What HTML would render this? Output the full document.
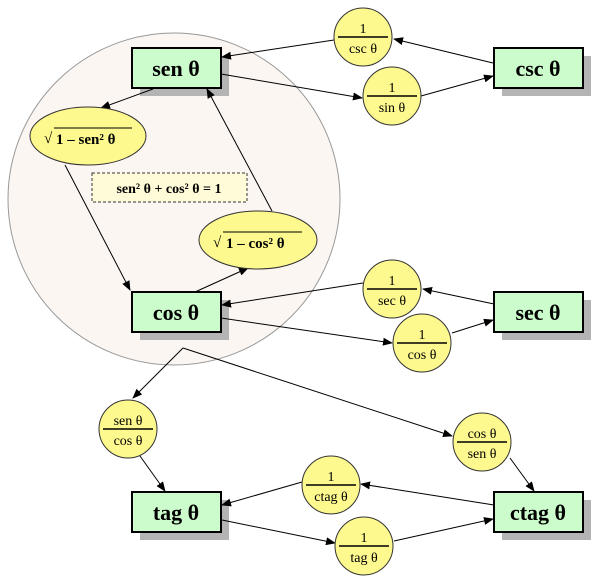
<!DOCTYPE html>
<html><head><meta charset="utf-8"><style>body{margin:0;background:#fff}svg{display:block}</style></head><body>
<svg width="600" height="580" xmlns="http://www.w3.org/2000/svg" font-family="Liberation Serif, serif">
<defs><marker id="a" markerWidth="10" markerHeight="8" refX="9" refY="4" orient="auto" markerUnits="userSpaceOnUse"><path d="M0,0 L10,4 L0,8 z" fill="#000"/></marker></defs>
<circle cx="174" cy="199" r="166" fill="#fbf6f2" stroke="#999" stroke-width="1"/>
<g fill="#b4b4b4">
<rect x="140" y="56" width="89" height="40"/><rect x="502" y="56" width="89" height="40"/>
<rect x="140" y="300" width="89" height="40"/><rect x="502" y="300" width="89" height="40"/>
<rect x="140" y="500" width="89" height="40"/><rect x="502" y="500" width="89" height="40"/>
</g>
<g stroke="#000" stroke-width="1" fill="none" marker-end="url(#a)">
<line x1="493" y1="63" x2="394" y2="39"/>
<line x1="334" y1="40" x2="222" y2="57"/>
<line x1="221" y1="74" x2="362" y2="98"/>
<line x1="421" y1="96" x2="493" y2="76"/>
<line x1="153" y1="89" x2="101" y2="108"/>
<line x1="65" y1="165" x2="130" y2="290"/>
<line x1="195" y1="292" x2="248" y2="268"/>
<line x1="272" y1="211" x2="207" y2="89"/>
<line x1="494" y1="304" x2="423" y2="289"/>
<line x1="363" y1="283" x2="222" y2="305"/>
<line x1="221" y1="318" x2="392" y2="343"/>
<line x1="452" y1="333" x2="493" y2="320"/>
<line x1="183" y1="348" x2="133" y2="398"/>
<line x1="183" y1="348" x2="452" y2="436"/>
<line x1="140" y1="456" x2="165" y2="491"/>
<line x1="510" y1="458" x2="534" y2="491"/>
<line x1="494" y1="505" x2="361" y2="484"/>
<line x1="302" y1="482" x2="222" y2="505"/>
<line x1="222" y1="520" x2="335" y2="543"/>
<line x1="394" y1="541" x2="493" y2="519"/>
</g>
<g fill="#ccfccc" stroke="#000" stroke-width="2">
<rect x="132" y="48" width="89" height="40"/><rect x="494" y="48" width="89" height="40"/>
<rect x="132" y="292" width="89" height="40"/><rect x="494" y="292" width="89" height="40"/>
<rect x="132" y="492" width="89" height="40"/><rect x="494" y="492" width="89" height="40"/>
</g>
<g font-weight="bold" font-size="22" text-anchor="middle">
<text x="176" y="76">sen θ</text><text x="538" y="76">csc θ</text>
<text x="176" y="320">cos θ</text><text x="538" y="320">sec θ</text>
<text x="176" y="520">tag θ</text><text x="538" y="520">ctag θ</text>
</g>
<rect x="92" y="173" width="155" height="29" fill="#fffbd8" stroke="#333" stroke-dasharray="3,2"/>
<text x="169" y="193" text-anchor="middle" font-weight="bold" font-size="14">sen² θ + cos² θ = 1</text>
<g fill="#fdf98f" stroke="#333" stroke-width="1">
<ellipse cx="88" cy="136" rx="58" ry="29"/><ellipse cx="258" cy="240" rx="59" ry="29"/>
<circle cx="363" cy="37" r="29"/><circle cx="392" cy="96" r="29"/>
<circle cx="392" cy="289" r="29"/><circle cx="422" cy="343" r="29"/>
<circle cx="128" cy="429" r="29"/><circle cx="482" cy="442" r="29"/>
<circle cx="331" cy="485" r="29"/><circle cx="364" cy="546" r="29"/>
</g>
<g font-weight="bold" font-size="15">
<text x="44" y="143">√</text><line x1="54" y1="128" x2="132" y2="128" stroke="#000"/><text x="56" y="144">1 – sen² θ</text>
<text x="213" y="247">√</text><line x1="223" y1="232" x2="302" y2="232" stroke="#000"/><text x="226" y="248">1 – cos² θ</text>
</g>
<g stroke="#000" stroke-width="1.5">
<line x1="338" y1="37" x2="388" y2="37"/><line x1="367" y1="96" x2="417" y2="96"/>
<line x1="367" y1="289" x2="417" y2="289"/><line x1="397" y1="343" x2="447" y2="343"/>
<line x1="103" y1="429" x2="153" y2="429"/><line x1="457" y1="442" x2="507" y2="442"/>
<line x1="306" y1="485" x2="356" y2="485"/><line x1="339" y1="546" x2="389" y2="546"/>
</g>
<g font-size="14" text-anchor="middle">
<text x="363" y="33">1</text><text x="363" y="53">csc θ</text>
<text x="392" y="92">1</text><text x="392" y="112">sin θ</text>
<text x="392" y="285">1</text><text x="392" y="305">sec θ</text>
<text x="422" y="339">1</text><text x="422" y="359">cos θ</text>
<text x="128" y="425">sen θ</text><text x="128" y="445">cos θ</text>
<text x="482" y="438">cos θ</text><text x="482" y="458">sen θ</text>
<text x="331" y="481">1</text><text x="331" y="501">ctag θ</text>
<text x="364" y="542">1</text><text x="364" y="562">tag θ</text>
</g>
</svg>
</body></html>
